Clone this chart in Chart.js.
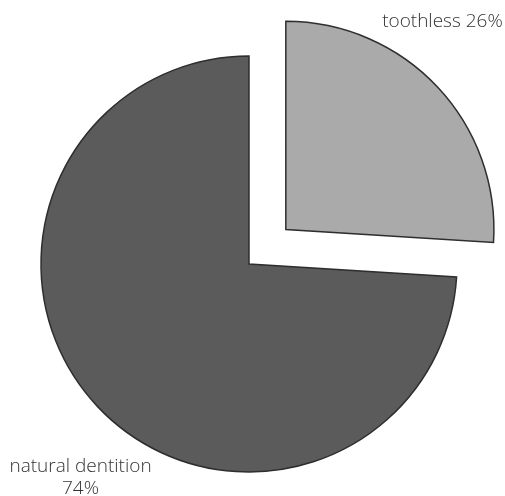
<!DOCTYPE html>
<html>
<head>
<meta charset="utf-8">
<script src="https://cdn.jsdelivr.net/npm/chart.js@4"></script>
<style>
html,body{margin:0;padding:0;background:#fff;}
#wrap{width:505px;height:496px;position:relative;}
</style>
</head>
<body>
<div id="wrap"><canvas id="c" width="505" height="496"></canvas></div>
<script>
const categories = ["toothless", "natural dentition"];
const values = [26, 74];
const labelTexts = [["toothless 26%"], ["natural dentition", "74%"]];
const colors = ["#aaaaaa", "#5b5b5b"];
const offsets = [202, 0];

const labelPlugin = {
  id: 'sliceLabels',
  afterDatasetsDraw(chart) {
    const ctx = chart.ctx;
    const meta = chart.getDatasetMeta(0);
    ctx.save();
    ctx.fillStyle = '#333333';
    ctx.font = '300 19px "Open Sans", "Noto Sans", sans-serif';
    ctx.textBaseline = 'middle';
    meta.data.forEach((arc, i) => {
      const p = arc.getProps(['x', 'y', 'outerRadius', 'startAngle', 'endAngle'], true);
      const lines = labelTexts[i];
      if (i === 0) {
        ctx.textAlign = 'right';
        const x = p.x + p.outerRadius * 1.22;
        const y = p.y - p.outerRadius * 1.165;
        ctx.fillText(lines[0], x, y);
      } else {
        ctx.textAlign = 'center';
        const x = p.x - p.outerRadius * 0.81;
        const y = p.y + p.outerRadius * 0.975;
        lines.forEach((t, k) => ctx.fillText(t, x, y + k * 22));
      }
    });
    ctx.restore();
  }
};

new Chart(document.getElementById('c'), {
  type: 'pie',
  data: {
    labels: categories,
    datasets: [{
      data: values,
      backgroundColor: colors,
      borderColor: '#2e2e2e',
      borderWidth: 1.5,
      offset: offsets,
      borderJoinStyle: 'miter'
    }]
  },
  options: {
    responsive: false,
    animation: false,
    radius: 208,
    layout: { padding: { left: 0, right: 7, top: 32, bottom: 0 } },
    plugins: { legend: { display: false }, tooltip: { enabled: false } }
  },
  plugins: [labelPlugin]
});
</script>
</body>
</html>
